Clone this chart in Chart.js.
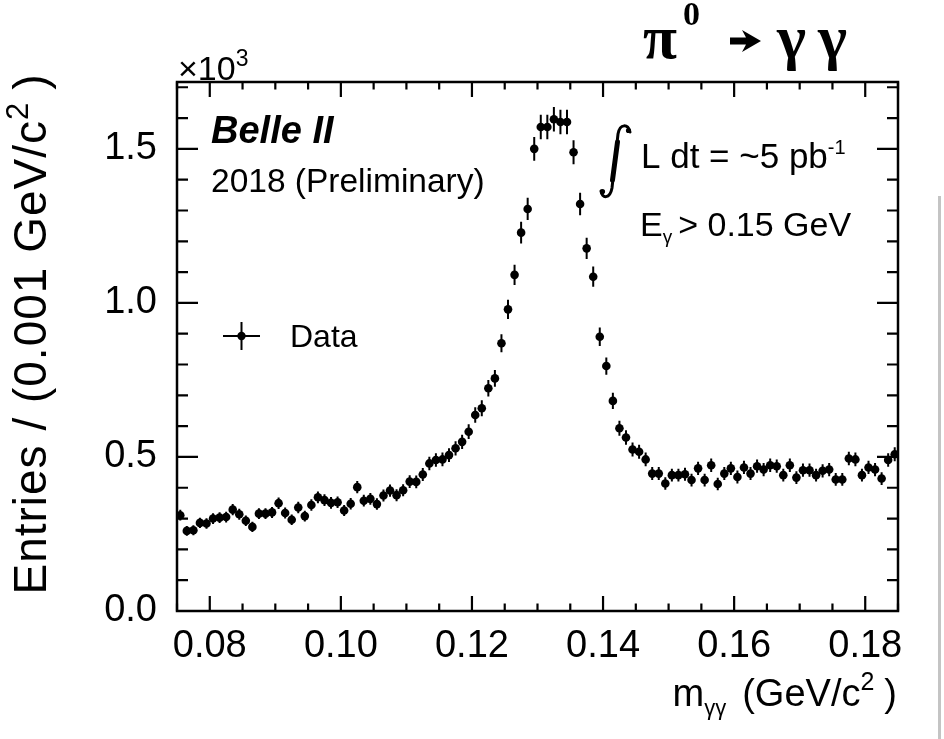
<!DOCTYPE html>
<html>
<head>
<meta charset="utf-8">
<script src="https://cdn.jsdelivr.net/npm/chart.js@4.4.1/dist/chart.umd.min.js"></script>
<style>
html, body { margin: 0; padding: 0; background: #fff; }
canvas { display: block; }
</style>
</head>
<body>
<canvas id="chart" width="944" height="739"></canvas>
<script>
// histogram binning (GeV/c^2)
var binStart = 0.075;
var binWidth = 0.001;

// entries per 0.001 GeV/c^2 bin
var entries = [
    311, 260, 262, 286, 284, 300, 303, 305, 329, 314,
    293, 273, 316, 316, 320, 350, 318, 296, 336, 308,
    344, 369, 360, 351, 353, 326, 348, 402, 358, 364,
    347, 375, 391, 376, 392, 420, 419, 443, 479, 490,
    492, 506, 528, 549, 582, 636, 658, 723, 755, 869,
    979, 1091, 1228, 1305, 1500, 1571, 1571, 1596, 1587, 1587,
    1489, 1321, 1177, 1085, 890, 795, 682, 593, 563, 524,
    517, 492, 446, 446, 414, 441, 441, 444, 425, 463,
    425, 473, 412, 446, 463, 435, 466, 446, 470, 459,
    473, 470, 441, 473, 433, 457, 457, 441, 455, 459,
    427, 427, 495, 492, 441, 466, 459, 430, 490, 509
];

var xTicks = [0.08, 0.10, 0.12, 0.14, 0.16, 0.18];
var yTicks = [0.0, 0.5, 1.0, 1.5];

var SANS = "'Liberation Sans', Arial, Helvetica, sans-serif";
var SERIF = "'Liberation Serif', 'Times New Roman', serif";

function binCenter(i) { return binStart + (i + 0.5) * binWidth; }

var points = entries.map(function (n, i) {
    return { x: binCenter(i), y: n / 1000 };
});

// draw a run of text pieces (with sub/superscripts) starting at x
function drawPieces(ctx, pieces, x, y) {
    pieces.forEach(function (p) {
        ctx.font = p.font;
        ctx.fillText(p.t, x, y + (p.dy || 0));
        x += ctx.measureText(p.t).width + (p.gap || 0);
    });
    return x;
}
function piecesWidth(ctx, pieces) {
    var w = 0;
    pieces.forEach(function (p) {
        ctx.font = p.font;
        w += ctx.measureText(p.t).width + (p.gap || 0);
    });
    return w;
}

// vertical (Poisson) and horizontal (bin width) error bars
var errorBars = {
    id: 'errorBars',
    beforeDatasetsDraw: function (chart) {
        var ctx = chart.ctx, xs = chart.scales.x, ys = chart.scales.y, a = chart.chartArea;
        ctx.save();
        ctx.beginPath();
        ctx.rect(a.left, a.top, a.right - a.left, a.bottom - a.top);
        ctx.clip();
        ctx.strokeStyle = '#000';
        ctx.lineWidth = 2;
        ctx.beginPath();
        entries.forEach(function (n, i) {
            var xc = binCenter(i), y = n / 1000, err = Math.sqrt(n) / 1000;
            var px = xs.getPixelForValue(xc), py = ys.getPixelForValue(y);
            ctx.moveTo(px, ys.getPixelForValue(y + err));
            ctx.lineTo(px, ys.getPixelForValue(y - err));
            ctx.moveTo(xs.getPixelForValue(xc - binWidth / 2), py);
            ctx.lineTo(xs.getPixelForValue(xc + binWidth / 2), py);
        });
        ctx.stroke();
        ctx.restore();
    }
};

// ROOT style frame with inward ticks on all four sides
var frame = {
    id: 'frame',
    afterDraw: function (chart) {
        var ctx = chart.ctx, xs = chart.scales.x, ys = chart.scales.y, a = chart.chartArea;
        ctx.save();
        ctx.strokeStyle = '#000';
        ctx.lineWidth = 2.5;
        ctx.strokeRect(a.left, a.top, a.right - a.left, a.bottom - a.top);
        ctx.lineWidth = 2.2;
        ctx.beginPath();
        var v, px, len;
        for (v = 0.075; v <= 0.1851; v += 0.005) {
            px = xs.getPixelForValue(v);
            len = xTicks.some(function (t) { return Math.abs(t - v) < 1e-6; }) ? 15 : 7.5;
            ctx.moveTo(px, a.bottom); ctx.lineTo(px, a.bottom - len);
            ctx.moveTo(px, a.top); ctx.lineTo(px, a.top + len);
        }
        for (v = 0; v <= 1.71; v += 0.1) {
            px = ys.getPixelForValue(v);
            len = yTicks.some(function (t) { return Math.abs(t - v) < 1e-6; }) ? 21 : 11;
            ctx.moveTo(a.left, px); ctx.lineTo(a.left + len, px);
            ctx.moveTo(a.right, px); ctx.lineTo(a.right - len, px);
        }
        ctx.stroke();
        ctx.restore();
    }
};

// titles, labels and the legend
var texts = {
    id: 'texts',
    afterDraw: function (chart) {
        var ctx = chart.ctx;
        ctx.save();
        ctx.fillStyle = '#000';
        ctx.strokeStyle = '#000';
        ctx.textBaseline = 'alphabetic';
        ctx.textAlign = 'left';

        // x10^3
        drawPieces(ctx, [
            { t: '\u00d710', font: '34px ' + SANS },
            { t: '3', font: '23px ' + SANS, dy: -14 }
        ], 178, 80);

        // y axis title
        var yt = [
            { t: 'Entries / (0.001 GeV/c', font: '46px ' + SANS },
            { t: '2', font: '31px ' + SANS, dy: -18, gap: 12 },
            { t: ')', font: '46px ' + SANS }
        ];
        ctx.save();
        ctx.translate(46, 334);
        ctx.rotate(-Math.PI / 2);
        ctx.letterSpacing = '1px';
        drawPieces(ctx, yt, -piecesWidth(ctx, yt) / 2, 0);
        ctx.restore();

        // x axis title
        var xt = [
            { t: 'm', font: '38px ' + SANS },
            { t: '\u03b3\u03b3', font: '22px ' + SANS, dy: 9, gap: 16 },
            { t: '(GeV/c', font: '38px ' + SANS },
            { t: '2', font: '25px ' + SANS, dy: -16, gap: 10 },
            { t: ')', font: '38px ' + SANS }
        ];
        drawPieces(ctx, xt, 897 - piecesWidth(ctx, xt), 706);

        // pi0 -> gamma gamma
        ctx.font = 'bold 62px ' + SERIF;
        ctx.fillText('\u03c0', 643, 58);
        ctx.fillText('\u03b3', 777, 58);
        ctx.fillText('\u03b3', 818, 58);
        ctx.font = 'bold 34px ' + SERIF;
        ctx.fillText('0', 683, 25);
        ctx.beginPath();
        ctx.moveTo(730, 37.5);
        ctx.lineTo(746, 37.5);
        ctx.lineTo(742, 30);
        ctx.lineTo(761, 41);
        ctx.lineTo(742, 52);
        ctx.lineTo(746, 44.5);
        ctx.lineTo(730, 44.5);
        ctx.closePath();
        ctx.fill();

        // experiment labels
        ctx.font = 'italic bold 38px ' + SANS;
        ctx.fillText('Belle II', 211, 143);
        ctx.font = '33.5px ' + SANS;
        ctx.fillText('2018 (Preliminary)', 211, 192);

        // luminosity: integral sign
        ctx.save();
        ctx.lineCap = 'round';
        ctx.lineWidth = 3;
        ctx.beginPath();
        ctx.moveTo(630, 132);
        ctx.bezierCurveTo(628, 124, 620, 123, 618, 134);
        ctx.lineTo(612, 188);
        ctx.bezierCurveTo(610, 199, 602, 199, 601, 191);
        ctx.stroke();
        ctx.lineWidth = 5;
        ctx.beginPath();
        ctx.moveTo(617.5, 142);
        ctx.lineTo(612.5, 180);
        ctx.stroke();
        ctx.beginPath();
        ctx.arc(628.5, 130.5, 2.6, 0, Math.PI * 2);
        ctx.arc(602.5, 191.5, 2.6, 0, Math.PI * 2);
        ctx.fill();
        ctx.restore();
        drawPieces(ctx, [
            { t: 'L dt = ~5 pb', font: '35px ' + SANS },
            { t: '-1', font: '20px ' + SANS, dy: -14 }
        ], 641, 168);

        // photon energy cut
        drawPieces(ctx, [
            { t: 'E', font: '34px ' + SANS },
            { t: '\u03b3', font: '19px ' + SANS, dy: 7, gap: 6 },
            { t: '> 0.15 GeV', font: '34px ' + SANS }
        ], 640, 236);

        // legend
        ctx.lineWidth = 2;
        ctx.beginPath();
        ctx.moveTo(223, 336); ctx.lineTo(260, 336);
        ctx.moveTo(241.5, 322); ctx.lineTo(241.5, 350);
        ctx.stroke();
        ctx.beginPath();
        ctx.arc(241.5, 336, 4.2, 0, Math.PI * 2);
        ctx.fill();
        ctx.font = '32px ' + SANS;
        ctx.fillText('Data', 290, 347);

        // edge of the neighbouring picture at the right border
        ctx.fillStyle = '#c4c4c4';
        ctx.fillRect(938, 196, 3, 543);
        ctx.restore();
    }
};

new Chart(document.getElementById('chart'), {
    type: 'scatter',
    data: {
        datasets: [{
            label: 'Data',
            data: points,
            pointRadius: 4.3,
            pointHoverRadius: 4.3,
            pointBackgroundColor: '#000',
            pointBorderWidth: 0,
            showLine: false
        }]
    },
    options: {
        responsive: false,
        animation: false,
        events: [],
        layout: { padding: { top: 82, right: 46, left: 0, bottom: 0 } },
        plugins: { legend: { display: false }, tooltip: { enabled: false } },
        scales: {
            x: {
                type: 'linear',
                min: 0.075,
                max: 0.185,
                grid: { display: false },
                border: { display: false },
                afterBuildTicks: function (s) { s.ticks = xTicks.map(function (v) { return { value: v }; }); },
                afterFit: function (s) { s.height = 128; },
                ticks: {
                    color: '#000',
                    padding: 5,
                    maxRotation: 0,
                    autoSkip: false,
                    font: { family: SANS, size: 38 },
                    callback: function (v) { return v.toFixed(2); }
                }
            },
            y: {
                min: 0,
                max: 1.717,
                grid: { display: false },
                border: { display: false },
                afterBuildTicks: function (s) { s.ticks = yTicks.map(function (v) { return { value: v }; }); },
                afterFit: function (s) { s.width = 177; },
                ticks: {
                    color: '#000',
                    padding: 12,
                    font: { family: SANS, size: 38 },
                    callback: function (v) { return v.toFixed(1); }
                }
            }
        }
    },
    plugins: [errorBars, frame, texts]
});
</script>
</body>
</html>
